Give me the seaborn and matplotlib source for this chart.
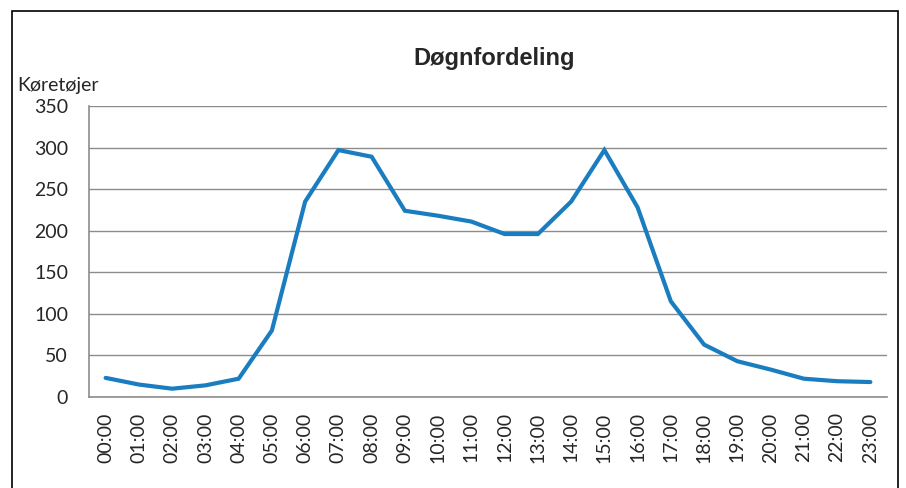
import numpy as np
import pandas as pd
import matplotlib
matplotlib.use("Agg")
import matplotlib.pyplot as plt
import seaborn as sns
from matplotlib.patches import Rectangle

hours = ["00:00", "01:00", "02:00", "03:00", "04:00", "05:00", "06:00", "07:00",
         "08:00", "09:00", "10:00", "11:00", "12:00", "13:00", "14:00", "15:00",
         "16:00", "17:00", "18:00", "19:00", "20:00", "21:00", "22:00", "23:00"]
vehicles = [23, 15, 10, 14, 22, 80, 235, 297, 289, 224, 218, 211, 196, 196,
            235, 297, 228, 115, 63, 43, 33, 22, 19, 18]

df = pd.DataFrame({"pos": np.arange(len(hours)), "Hour": hours, "Vehicles": vehicles})

sns.set_style("white")
plt.rcParams["font.family"] = ["Lato", "DejaVu Sans"]

fig = plt.figure(figsize=(9.06, 4.88), dpi=100)
ax = fig.add_axes([89 / 906, 1 - 397 / 488, 798 / 906, 291 / 488])

sns.lineplot(data=df, x="pos", y="Vehicles", ax=ax, color="#1A7DC0",
             linewidth=3.0, solid_joinstyle="miter")

ax.set_xlim(-0.5, len(hours) - 0.5)
ax.set_ylim(0, 350)
ax.set_yticks(range(0, 351, 50))
ax.grid(axis="y", color="#8C8C8C", linewidth=1.0)
ax.set_axisbelow(True)

# category boundaries get tick marks, category centers get labels
ax.set_xticks(np.arange(-0.5, len(hours), 1.0))
ax.set_xticklabels([])
ax.set_xticks(np.arange(len(hours)), minor=True)
ax.set_xticklabels(hours, minor=True, rotation=90, fontsize=14)
ax.tick_params(axis="x", which="major", length=6, color="#8C8C8C", width=1)
ax.tick_params(axis="x", which="minor", length=0, pad=11)
ax.tick_params(axis="y", length=6, color="#8C8C8C", width=1, labelsize=14, pad=9)

for side in ["top", "right"]:
    ax.spines[side].set_visible(False)
for side in ["left", "bottom"]:
    ax.spines[side].set_color("#8C8C8C")
    ax.spines[side].set_linewidth(1.2)

ax.set_xlabel("")
ax.set_ylabel("")
fig.text(17 / 906, 1 - 85 / 488, "Køretøjer", fontsize=14, va="center", ha="left")
fig.text(494 / 906, 1 - 58 / 488, "Døgnfordeling", fontsize=17, fontweight="bold",
         family="Liberation Sans", ha="center", va="center")

fig.patches.append(Rectangle((12 / 906, -0.1), 886 / 906, 1.1 - 11 / 488,
                             transform=fig.transFigure, fill=False,
                             edgecolor="black", linewidth=1.2))

fig.savefig("out.png", dpi=100)
